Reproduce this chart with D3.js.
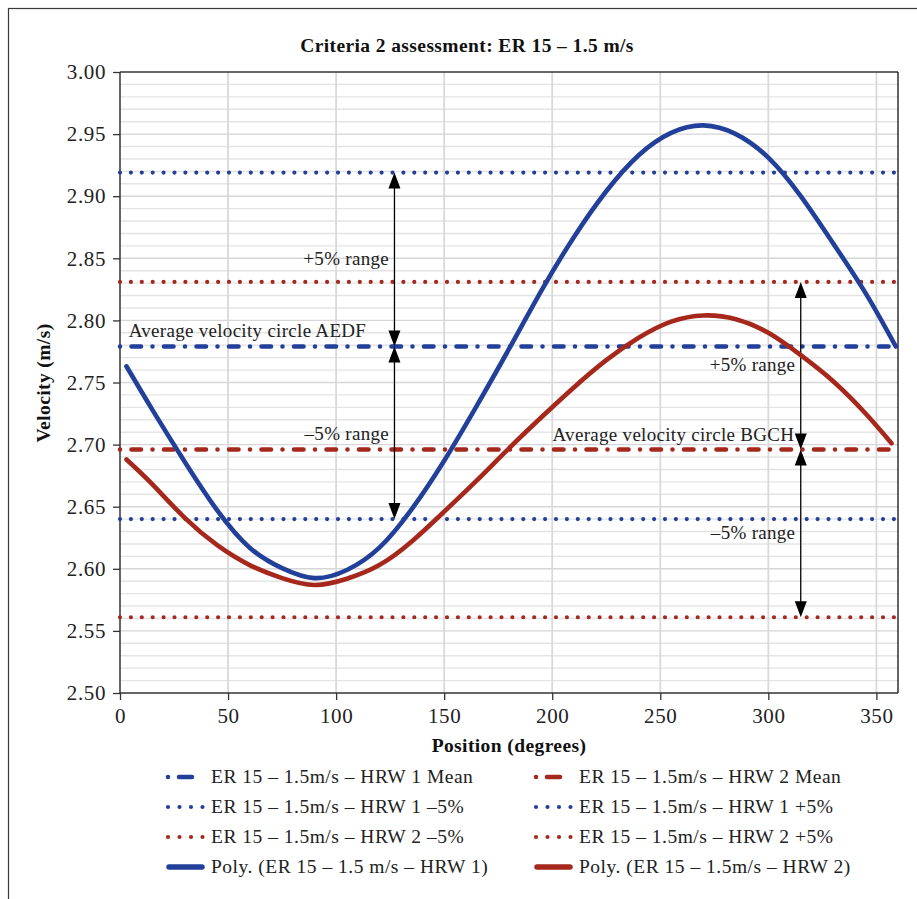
<!DOCTYPE html>
<html><head><meta charset="utf-8">
<script src="https://cdn.jsdelivr.net/npm/d3@7/dist/d3.min.js"></script>
<style>
html,body{margin:0;padding:0;background:#fff;}
svg{display:block;font-family:"Liberation Serif","DejaVu Serif",serif;}
</style></head>
<body>
<svg id="chart" width="917" height="899"></svg>
<script>
// ---- data ----
const title = "Criteria 2 assessment: ER 15 – 1.5 m/s";
const xTicks = [0, 50, 100, 150, 200, 250, 300, 350];
const yTicks = [2.50, 2.55, 2.60, 2.65, 2.70, 2.75, 2.80, 2.85, 2.90, 2.95, 3.00];
const yTickLabels = ["2.50","2.55","2.60","2.65","2.70","2.75","2.80","2.85","2.90","2.95","3.00"];
const levelNames = ["HRW 1 Mean","HRW 2 Mean","HRW 1 –5%","HRW 1 +5%","HRW 2 –5%","HRW 2 +5%"];
const levelValues = [2.779, 2.696, 2.640, 2.919, 2.561, 2.831];
const hrw1X = [3, 15, 30, 45, 60, 75, 90, 105, 120, 135, 150, 165, 180, 195, 210, 225, 240, 255, 270, 285, 300, 315, 330, 345, 359];
const hrw1V = [2.763, 2.728, 2.686, 2.647, 2.617, 2.6005, 2.5925, 2.599, 2.617, 2.648, 2.687, 2.731, 2.777, 2.824, 2.867, 2.904, 2.933, 2.951, 2.957, 2.950, 2.931, 2.900, 2.862, 2.822, 2.779];
const hrw2X = [3, 15, 30, 45, 60, 75, 90, 105, 120, 135, 150, 165, 180, 195, 210, 225, 240, 255, 270, 285, 300, 315, 330, 345, 357];
const hrw2V = [2.688, 2.668, 2.641, 2.619, 2.603, 2.5925, 2.587, 2.592, 2.603, 2.622, 2.646, 2.671, 2.697, 2.722, 2.746, 2.768, 2.786, 2.799, 2.804, 2.801, 2.790, 2.772, 2.751, 2.725, 2.701];
const legendLabels = [
  "ER 15 – 1.5m/s – HRW 1 Mean", "ER 15 – 1.5m/s – HRW 2 Mean",
  "ER 15 – 1.5m/s – HRW 1 –5%", "ER 15 – 1.5m/s – HRW 1 +5%",
  "ER 15 – 1.5m/s – HRW 2 –5%", "ER 15 – 1.5m/s – HRW 2 +5%",
  "Poly. (ER 15 – 1.5 m/s – HRW 1)", "Poly. (ER 15 – 1.5m/s – HRW 2)"
];

// ---- styles ----
const BLUE = "#22409a", RED = "#a6281c";
const levelStyle = [
  {c: BLUE, t: "dashdot"}, {c: RED, t: "dashdot"},
  {c: BLUE, t: "dot"}, {c: BLUE, t: "dot"},
  {c: RED, t: "dot"}, {c: RED, t: "dot"}
];
const legendStyle = [
  {c: BLUE, t: "dashdot"}, {c: RED, t: "dashdot"},
  {c: BLUE, t: "dot"}, {c: BLUE, t: "dot"},
  {c: RED, t: "dot"}, {c: RED, t: "dot"},
  {c: BLUE, t: "solid"}, {c: RED, t: "solid"}
];

const svg = d3.select("#chart");
const L = 120, R = 898, T = 72, B = 693;
const x = d3.scaleLinear().domain([0, 360]).range([L, R]);
const y = d3.scaleLinear().domain([2.5, 3.0]).range([B, T]);

// outer frame
svg.append("rect").attr("x", 8.5).attr("y", 8.5).attr("width", 1000).attr("height", 1000)
  .attr("fill", "none").attr("stroke", "#3a3a3a").attr("stroke-width", 1.2);

// title
svg.append("text").attr("x", 467).attr("y", 52).attr("text-anchor", "middle")
  .attr("font-weight", "bold").attr("font-size", 19.5).attr("letter-spacing", 0.4).attr("fill", "#111").text(title);

// gridlines
const g = svg.append("g");
const minor = d3.range(251, 300).map(d => d / 100);
g.selectAll(".hg").data(minor).join("line")
  .attr("x1", L).attr("x2", R).attr("y1", d => y(d)).attr("y2", d => y(d))
  .attr("stroke", d => (Math.round(d * 100) % 5 === 0) ? "#d6d6d6" : "#e4e4e4").attr("stroke-width", 1.4);
g.selectAll(".vg").data(xTicks.filter(d => d > 0)).join("line")
  .attr("x1", d => x(d)).attr("x2", d => x(d)).attr("y1", T).attr("y2", B)
  .attr("stroke", "#d9d9d9").attr("stroke-width", 1.8);

// plot border
svg.append("line").attr("x1", L).attr("x2", R).attr("y1", T).attr("y2", T).attr("stroke", "#333").attr("stroke-width", 1.3);
svg.append("line").attr("x1", R).attr("x2", R).attr("y1", T).attr("y2", B).attr("stroke", "#111").attr("stroke-width", 1.3);

// axes
const yAxis = d3.axisLeft(y).tickValues(yTicks).tickFormat((d, i) => yTickLabels[i]).tickSize(7).tickPadding(7);
const ya = svg.append("g").attr("transform", `translate(${L},0)`).call(yAxis);
const xAxis = d3.axisBottom(x).tickValues(xTicks).tickFormat(d3.format("d")).tickSize(7).tickPadding(8);
const xa = svg.append("g").attr("transform", `translate(0,${B})`).call(xAxis);
[ya, xa].forEach(a => {
  a.attr("font-family", null);
  a.select(".domain").attr("stroke", "#333").attr("stroke-width", 1.5);
  a.selectAll(".tick line").attr("stroke", "#333").attr("stroke-width", 1.3);
  a.selectAll("text").attr("font-family", "Liberation Serif, serif").attr("font-size", 21).attr("letter-spacing", 0.6).attr("fill", "#222");
});
ya.select(".domain").attr("d", `M0,${T}V${B}`);
xa.select(".domain").attr("d", `M${L},0H${R}`);

// axis titles
svg.append("text").attr("transform", `translate(50,383) rotate(-90)`).attr("text-anchor", "middle")
  .attr("font-weight", "bold").attr("font-size", 19.5).attr("letter-spacing", 0.4).attr("fill", "#111").text("Velocity (m/s)");
svg.append("text").attr("x", 509).attr("y", 752).attr("text-anchor", "middle")
  .attr("font-weight", "bold").attr("font-size", 19.5).attr("letter-spacing", 0.4).attr("fill", "#111").text("Position (degrees)");

function applyStyle(sel, s) {
  sel.attr("stroke", s.c).attr("fill", "none");
  if (s.t === "dot") sel.attr("stroke-width", 4.2).attr("stroke-linecap", "round").attr("stroke-dasharray", "0 10.9");
  else if (s.t === "dashdot") sel.attr("stroke-width", 4.6).attr("stroke-linecap", "round").attr("stroke-dasharray", "0 11.5 9.5 11.5");
  else sel.attr("stroke-width", 4.6).attr("stroke-linecap", "round");
  return sel;
}

// horizontal level lines
const lv = svg.append("g");
levelValues.forEach((v, i) => {
  applyStyle(lv.append("line").attr("x1", L).attr("x2", R).attr("y1", y(v)).attr("y2", y(v)), levelStyle[i]);
});

// double arrows
function tri(xv, v, dir) {
  const px = x(xv), py = y(v);
  const h = 16, w = 6;
  const p = dir < 0 ? `M${px},${py}L${px - w},${py + h}L${px + w},${py + h}Z` : `M${px},${py}L${px - w},${py - h}L${px + w},${py - h}Z`;
  svg.append("path").attr("d", p).attr("fill", "#000");
}
function darrow(xv, v1, v2) { // v1 > v2
  svg.append("line").attr("x1", x(xv)).attr("x2", x(xv)).attr("y1", y(v1) + 4).attr("y2", y(v2) - 4)
    .attr("stroke", "#000").attr("stroke-width", 1.3);
  tri(xv, v1, -1); tri(xv, v2, 1);
}
darrow(127, levelValues[3], levelValues[0]);
darrow(127, levelValues[0], levelValues[2]);
darrow(315, levelValues[5], levelValues[1]);
darrow(315, levelValues[1], levelValues[4]);

const ann = [
  {x: 124.5, v: 2.845, t: "+5% range", a: "end"},
  {x: 4, v: 2.7865, t: "Average velocity circle AEDF", a: "start"},
  {x: 124.5, v: 2.7035, t: "–5% range", a: "end"},
  {x: 312.5, v: 2.7595, t: "+5% range", a: "end"},
  {x: 312, v: 2.703, t: "Average velocity circle BGCH", a: "end"},
  {x: 312.5, v: 2.624, t: "–5% range", a: "end"}
];
ann.forEach(a => {
  svg.append("text").attr("x", x(a.x)).attr("y", y(a.v)).attr("text-anchor", a.a)
    .attr("font-size", 19).attr("letter-spacing", 0.3).attr("fill", "#222").text(a.t);
});

// curves
const line = d3.line().curve(d3.curveNatural);
svg.append("path").attr("d", line(hrw1X.map((d, i) => [x(d), y(hrw1V[i])])))
  .attr("fill", "none").attr("stroke", BLUE).attr("stroke-width", 4.6).attr("stroke-linecap", "round");
svg.append("path").attr("d", line(hrw2X.map((d, i) => [x(d), y(hrw2V[i])])))
  .attr("fill", "none").attr("stroke", RED).attr("stroke-width", 4.6).attr("stroke-linecap", "round");

// legend
const lg = svg.append("g");
legendLabels.forEach((t, i) => {
  const col = i % 2, row = Math.floor(i / 2);
  const lx = col === 0 ? 168 : 536, ly = 777 + row * 30;
  const s = legendStyle[i];
  const sym = lg.append("line").attr("x1", lx).attr("x2", lx + 36).attr("y1", ly).attr("y2", ly);
  if (s.t === "dot") applyStyle(sym, s).attr("stroke-dasharray", "0 11.5").attr("x2", lx + 35);
  else if (s.t === "dashdot") applyStyle(sym, s).attr("stroke-dasharray", "0 11 13 11 0 100").attr("x2", lx + 35);
  else applyStyle(sym, s).attr("stroke-width", 5.5).attr("x1", lx + 1).attr("x2", lx + 34);
  lg.append("text").attr("x", lx + 43).attr("y", ly + 6).attr("font-size", 19.5).attr("letter-spacing", 0.5).attr("fill", "#222").text(t);
});
</script>
</body></html>
